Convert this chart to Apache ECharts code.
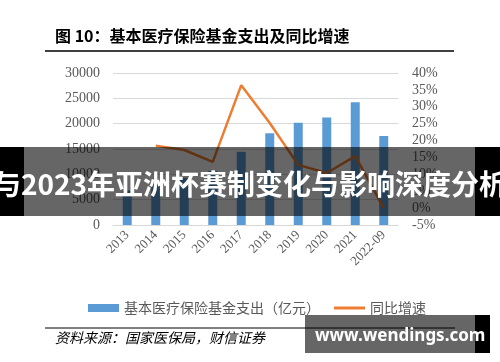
<!DOCTYPE html>
<html>
<head>
<meta charset="utf-8">
<script src="https://cdn.jsdelivr.net/npm/echarts@6/dist/echarts.min.js"></script>
<style>
html,body{margin:0;padding:0;background:#fff;}
#main{width:500px;height:362px;}
</style>
</head>
<body>
<div id="main"></div>
<script>
var categories = ['2013','2014','2015','2016','2017','2018','2019','2020','2021','2022-09'];
var expenditure = [6800, 8100, 9300, 10700, 14450, 18100, 20200, 21200, 24250, 17550];
var growth = [null, 18.5, 17.2, 13.7, 36.4, 25.2, 12.8, 10.4, 15.4, 0.0];
var leftTicks = {min: 0, max: 30000, interval: 5000};
var rightTicks = {min: -5, max: 40, interval: 5};
var barName = '基本医疗保险基金支出（亿元）';
var lineName = '同比增速';
var titleText = '图 10：基本医疗保险基金支出及同比增速';
var sourceText = '资料来源：国家医保局，财信证券';
var bannerText = '与2023年亚洲杯赛制变化与影响深度分析';
var watermarkText = 'www.wendings.com';

var chart = echarts.init(document.getElementById('main'), null, {renderer: 'canvas'});
var axisFont = {fontFamily: 'Liberation Serif', fontSize: 14, color: '#595959'};
var option = {
  animation: false,
  backgroundColor: '#fff',
  grid: {left: 113, right: 102, top: 73, bottom: 137},
  legend: {
    left: 83, top: 296,
    itemWidth: 31, itemHeight: 8, itemGap: 14,
    textStyle: {fontFamily: 'Noto Sans CJK SC', fontSize: 14, color: '#595959'},
    data: [
      {name: barName, icon: 'rect', itemStyle: {color: '#5b9bd5'}},
      {name: lineName, icon: 'path://M0,0H31V3H0Z', itemStyle: {color: '#ed7d31'}}
    ]
  },
  xAxis: {
    type: 'category', data: categories, boundaryGap: true,
    axisLine: {lineStyle: {color: '#d9d9d9'}},
    axisTick: {show: false},
    axisLabel: Object.assign({rotate: 45, interval: 0, margin: 8}, axisFont, {fontSize: 13})
  },
  yAxis: [{
    type: 'value', min: leftTicks.min, max: leftTicks.max, interval: leftTicks.interval,
    axisLine: {show: false}, axisTick: {show: false},
    splitLine: {lineStyle: {color: '#d9d9d9', width: 1}},
    axisLabel: Object.assign({margin: 13, formatter: function (v) { return String(v); }}, axisFont)
  }, {
    type: 'value', min: rightTicks.min, max: rightTicks.max, interval: rightTicks.interval,
    axisLine: {show: false}, axisTick: {show: false}, splitLine: {show: false},
    axisLabel: Object.assign({margin: 14, formatter: '{value}%'}, axisFont)
  }],
  series: [{
    name: barName, type: 'bar', data: expenditure, barWidth: 9,
    itemStyle: {color: '#5b9bd5'}
  }, {
    name: lineName, type: 'line', yAxisIndex: 1, data: growth,
    symbol: 'none', showSymbol: false, connectNulls: false,
    lineStyle: {color: '#ed7d31', width: 2.5}, itemStyle: {color: '#ed7d31'}
  }],
  graphic: [
    {type: 'text', left: 55, top: 28, z: 10,
     style: {text: titleText, fontFamily: 'Noto Sans CJK SC', fontWeight: 'bold', fontSize: 16, fill: '#000'}},
    {type: 'line', z: 10, shape: {x1: 45, y1: 51, x2: 454, y2: 51}, style: {stroke: '#000', lineWidth: 1.5}},
    {type: 'line', z: 10, shape: {x1: 45, y1: 328, x2: 455, y2: 328}, style: {stroke: '#000', lineWidth: 1}},
    {type: 'text', left: 55, top: 331, z: 10,
     style: {text: sourceText, fontFamily: 'Noto Sans CJK SC', fontStyle: 'italic', fontSize: 14, fill: '#000'}},
    {type: 'rect', z: 100, shape: {x: 0, y: 147, width: 24, height: 69}, style: {fill: '#000'}},
    {type: 'rect', z: 100, shape: {x: 475, y: 147, width: 25, height: 69}, style: {fill: '#000'}},
    {type: 'rect', z: 100, shape: {x: 24, y: 147, width: 451, height: 69}, style: {fill: 'rgba(0,0,0,0.6)'}},
    {type: 'text', z: 101, x: 250, y: 184,
     style: {text: bannerText, fontFamily: 'Noto Sans CJK SC', fontWeight: 'bold', fontSize: 28, fill: '#fff', align: 'center', verticalAlign: 'middle'}},
    {type: 'rect', z: 100, shape: {x: 305, y: 315, width: 170, height: 38}, style: {fill: 'rgba(0,0,0,0.6)'}},
    {type: 'rect', z: 100, shape: {x: 475, y: 315, width: 15, height: 38}, style: {fill: '#000'}},
    {type: 'text', z: 101, x: 315, y: 336,
     style: {text: watermarkText, fontFamily: 'Noto Sans', fontWeight: 'bold', fontSize: 17, fill: '#fff', align: 'left', verticalAlign: 'middle'}}
  ]
};
chart.setOption(option);
</script>
</body>
</html>
